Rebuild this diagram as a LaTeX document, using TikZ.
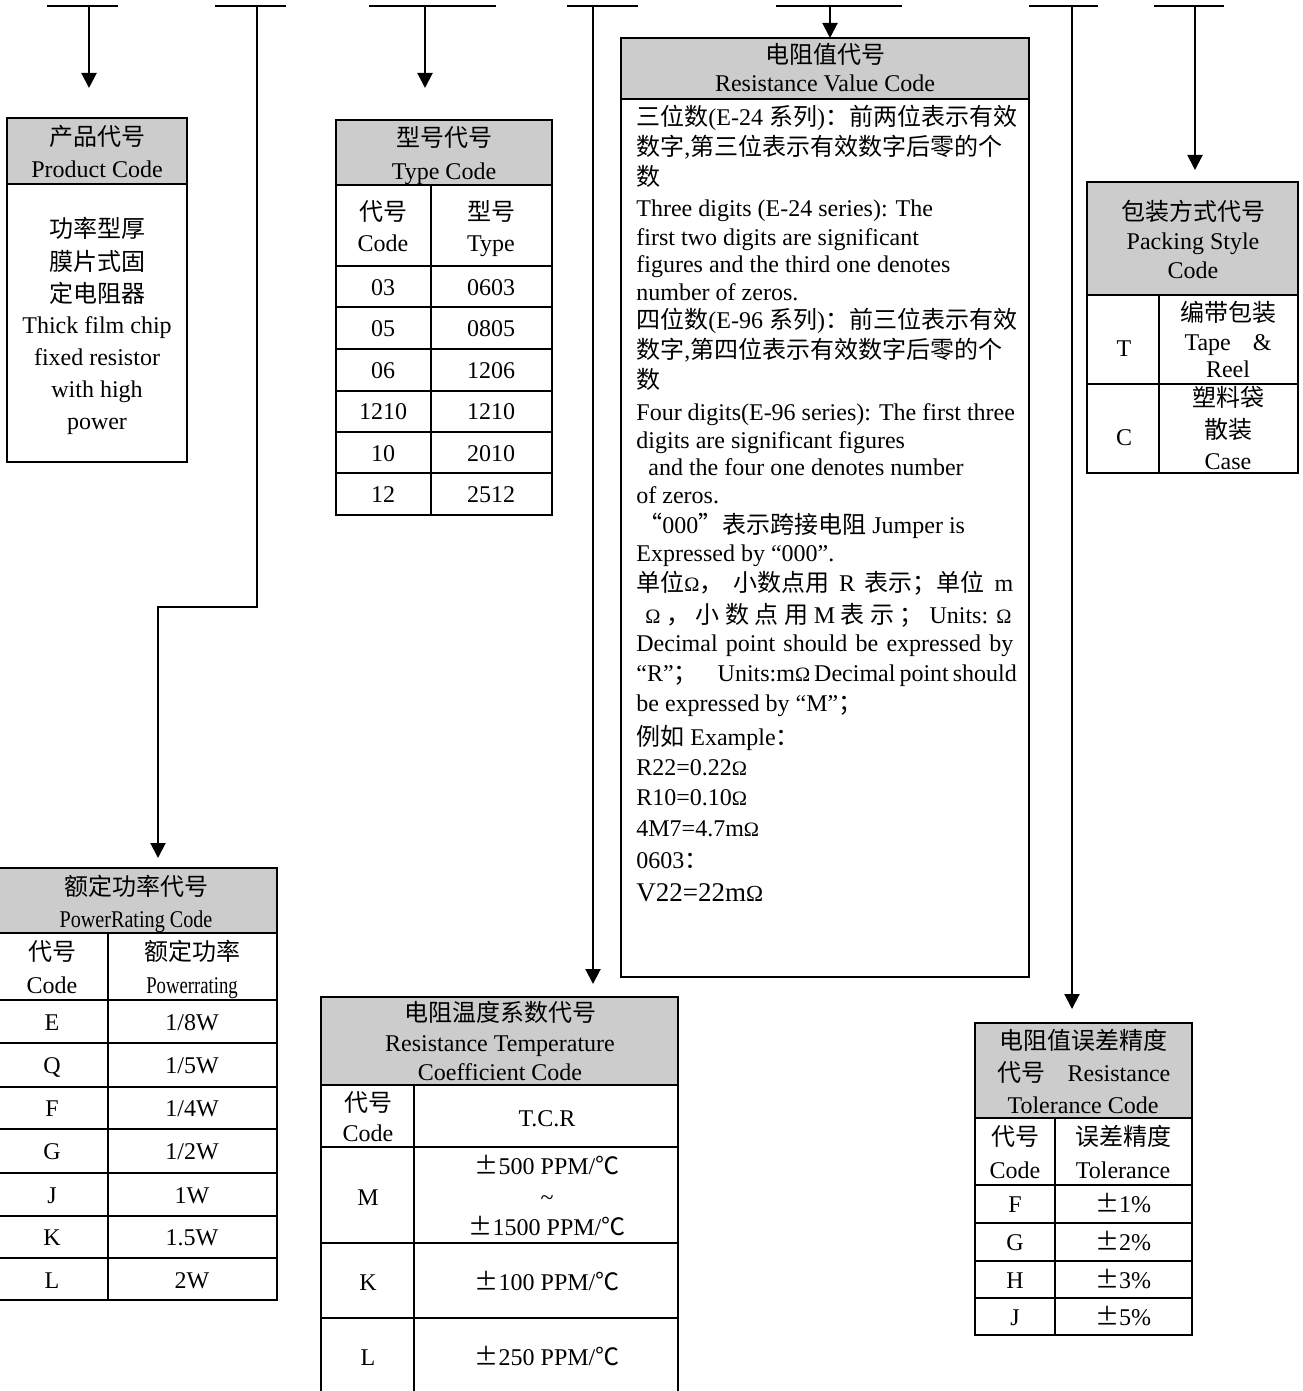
\documentclass[tikz,border=0pt]{standalone}
\usepackage{fontspec}
\usepackage{graphicx}
\setmainfont{Liberation Serif}
\newfontfamily\cjk{Noto Sans CJK SC}
\newcommand\zh[1]{{\cjk #1}}
\newcommand\ohm{\scalebox{0.85}{Ω}}
\usetikzlibrary{arrows.meta}
\definecolor{hdrgray}{gray}{0.8}
\tikzset{
  lbl/.style={inner sep=0pt, text height=10pt, text depth=1.6pt, font=\fontsize{12}{16}\selectfont},
  lft/.style={lbl, anchor=west},
  tbl/.style={line width=1pt},
  hdr/.style={tbl, fill=hdrgray},
  wire/.style={line width=1pt},
  pointer/.style={wire, -{Triangle[width=7.5pt,length=7.5pt]}}
}

\begin{document}
\begin{tikzpicture}[x=0.5pt,y=-0.5pt]
\useasboundingbox (0,0) rectangle (1302,1391);

% top bars and leads
\coordinate (b1l) at (47,6);    \coordinate (b1r) at (118,6);
\coordinate (b2l) at (215,6);   \coordinate (b2r) at (286,6);
\coordinate (b3l) at (369,6);   \coordinate (b3r) at (496,6);
\coordinate (b4l) at (567,6);   \coordinate (b4r) at (638,6);
\coordinate (b5l) at (776,6);   \coordinate (b5r) at (902,6);
\coordinate (b6l) at (1029,6);  \coordinate (b6r) at (1098,6);
\coordinate (b7l) at (1154,6);  \coordinate (b7r) at (1224,6);
\coordinate (s1) at (89,6);     \coordinate (e1) at (89,88);
\coordinate (s2) at (257,6);    \coordinate (k2) at (158,607);   \coordinate (e2) at (158,858);
\coordinate (s3) at (425,6);    \coordinate (e3) at (425,88);
\coordinate (s4) at (593,6);    \coordinate (e4) at (593,984);
\coordinate (s5) at (830,6);    \coordinate (e5) at (830,38);
\coordinate (s6) at (1072,6);   \coordinate (e6) at (1072,1009);
\coordinate (s7) at (1195,6);   \coordinate (e7) at (1195,170);
\draw[wire] (b1l) -- (b1r) (b2l) -- (b2r) (b3l) -- (b3r) (b4l) -- (b4r)
            (b5l) -- (b5r) (b6l) -- (b6r) (b7l) -- (b7r);
\draw[pointer] (s1) -- (e1);
\draw[pointer] (s2) |- (k2) -- (e2);
\draw[pointer] (s3) -- (e3);
\draw[pointer] (s4) -- (e4);
\draw[pointer] (s5) -- (e5);
\draw[pointer] (s6) -- (e6);
\draw[pointer] (s7) -- (e7);

% product code
\draw[hdr] (7,118) rectangle (187,184);
\draw[tbl] (7,184) rectangle (187,462);
\node[lbl] (pc1) at (97,137) {\zh{产品代号}};
\node[lbl] (pc2) at (97,169) {Product Code};
\node[lbl] (pc3) at (97,229) {\zh{功率型厚}};
\node[lbl] (pc4) at (97,262) {\zh{膜片式固}};
\node[lbl] (pc5) at (97,294) {\zh{定电阻器}};
\node[lbl] (pc6) at (97,325) {Thick film chip};
\node[lbl] (pc7) at (97,357) {fixed resistor};
\node[lbl] (pc8) at (97,389) {with high};
\node[lbl] (pc9) at (97,421) {power};

% type code
\draw[hdr] (336,120) rectangle (552,185);
\draw[tbl] (336,185) rectangle (552,515);
\draw[tbl] (431,185) -- (431,515)
           (336,266) -- (552,266) (336,307) -- (552,307) (336,349) -- (552,349)
           (336,391) -- (552,391) (336,432) -- (552,432) (336,473) -- (552,473);
\node[lbl] (ty1) at (444,138) {\zh{型号代号}};
\node[lbl] (ty2) at (444,171) {Type Code};
\node[lbl] (ty3) at (383,212) {\zh{代号}};
\node[lbl] (ty4) at (383,243) {Code};
\node[lbl] (ty5) at (491,212) {\zh{型号}};
\node[lbl] (ty6) at (491,243) {Type};
\node[lbl] (ty7) at (383,287) {03};    \node[lbl] (ty8) at (491,287) {0603};
\node[lbl] (ty9) at (383,328) {05};    \node[lbl] (ty10) at (491,328) {0805};
\node[lbl] (ty11) at (383,370) {06};   \node[lbl] (ty12) at (491,370) {1206};
\node[lbl] (ty13) at (383,411) {1210}; \node[lbl] (ty14) at (491,411) {1210};
\node[lbl] (ty15) at (383,453) {10};   \node[lbl] (ty16) at (491,453) {2010};
\node[lbl] (ty17) at (383,494) {12};   \node[lbl] (ty18) at (491,494) {2512};

% resistance value code
\draw[hdr] (621,38) rectangle (1029,99);
\draw[tbl] (621,99) rectangle (1029,977);
\node[lbl] (rv0) at (825,55) {\zh{电阻值代号}};
\node[lbl] (rv00) at (825,83) {Resistance Value Code};
\node[lft] (rv1) at (636,117) {\zh{三位数}(E-24 \zh{系列})\zh{：前两位表示有效}};
\node[lft] (rv2) at (636,147) {\zh{数字},\zh{第三位表示有效数字后零的个}};
\node[lft] (rv3) at (636,177) {\zh{数}};
\node[lft] (rv4) at (636,208) {Three digits (E-24 series): The};
\node[lft] (rv5) at (636,237) {first two digits are significant};
\node[lft] (rv6) at (636,264) {figures and the third one denotes};
\node[lft] (rv7) at (636,292) {number of zeros.};
\node[lft] (rv8) at (636,320) {\zh{四位数}(E-96 \zh{系列})\zh{：前三位表示有效}};
\node[lft] (rv9) at (636,350) {\zh{数字},\zh{第四位表示有效数字后零的个}};
\node[lft] (rv10) at (636,380) {\zh{数}};
\node[lft] (rv11) at (636,412) {Four digits(E-96 series): The first three};
\node[lft] (rv12) at (636,440) {digits are significant figures};
\node[lft] (rv13) at (648,467) {and the four one denotes number};
\node[lft] (rv14) at (636,495) {of zeros.};
\node[lft] (rv15) at (638,525) {\zh{“}000\zh{”表示跨接电阻} Jumper is};
\node[lft] (rv16) at (636,553) {Expressed by “000”.};
\node[lft] (rv17) at (636,583) {\makebox[188.5pt][s]{\zh{单位}\ohm\zh{，}\hfill\zh{小数点用}\hfill R\hfill\zh{表示；单位}\hfill m}};
\node[lft] (rv18) at (645,615) {\makebox[183pt][s]{\ohm\hfill\zh{，}\hfill\zh{小}\hfill\zh{数}\hfill\zh{点}\hfill\zh{用}\hfill M\hfill\zh{表}\hfill\zh{示}\hfill\zh{；}\hfill Units: \ohm}};
\node[lft] (rv19) at (636,643) {\makebox[188.5pt][s]{Decimal point should be expressed by}};
\node[lft] (rv20) at (636,673) {\makebox[188.5pt][s]{“R”\zh{；}\hspace{8pt} Units:m\ohm{} Decimal point should}};
\node[lft] (rv21) at (636,703) {be expressed by “M”\zh{；}};
\node[lft] (rv22) at (636,737) {\zh{例如} Example\zh{：}};
\node[lft] (rv23) at (636,767) {R22=0.22\ohm};
\node[lft] (rv24) at (636,797) {R10=0.10\ohm};
\node[lft] (rv25) at (636,828) {4M7=4.7m\ohm};
\node[lft] (rv26) at (636,860) {0603\zh{：}};
\node[lft, font=\fontsize{13.5}{16}\selectfont] (rv27) at (636,893) {V22=22m\ohm};

% packing style code
\draw[hdr] (1087,182) rectangle (1298,295);
\draw[tbl] (1087,295) rectangle (1298,473);
\draw[tbl] (1159,295) -- (1159,473) (1087,384) -- (1298,384);
\node[lbl] (ps1) at (1193,212) {\zh{包装方式代号}};
\node[lbl] (ps2) at (1193,241) {Packing Style};
\node[lbl] (ps3) at (1193,270) {Code};
\node[lbl] (ps4) at (1124,348) {T};
\node[lbl] (ps5) at (1228,313) {\zh{编带包装}};
\node[lbl] (ps6) at (1228,342) {\makebox[43.5pt][s]{Tape \&}};
\node[lbl] (ps7) at (1228,369) {Reel};
\node[lbl] (ps8) at (1124,437) {C};
\node[lbl] (ps9) at (1228,398) {\zh{塑料袋}};
\node[lbl] (ps10) at (1228,430) {\zh{散装}};
\node[lbl] (ps11) at (1228,461) {Case};

% power rating code
\draw[hdr] (-3,868) rectangle (277,933);
\draw[tbl] (-3,933) rectangle (277,1300);
\draw[tbl] (108,933) -- (108,1300)
           (-3,1000) -- (277,1000) (-3,1043) -- (277,1043) (-3,1087) -- (277,1087)
           (-3,1129) -- (277,1129) (-3,1173) -- (277,1173) (-3,1216) -- (277,1216)
           (-3,1258) -- (277,1258);
\node[lbl] (pr1) at (136,887) {\zh{额定功率代号}};
\node[lbl] (pr2) at (136,919) {\scalebox{0.84}[1]{PowerRating Code}};
\node[lbl] (pr3) at (52,952) {\zh{代号}};
\node[lbl] (pr4) at (52,985) {Code};
\node[lbl] (pr5) at (192,952) {\zh{额定功率}};
\node[lbl] (pr6) at (192,985) {\scalebox{0.78}[1]{Powerrating}};
\node[lbl] (pr7) at (52,1022) {E};  \node[lbl] (pr8) at (192,1022) {1/8W};
\node[lbl] (pr9) at (52,1065) {Q};  \node[lbl] (pr10) at (192,1065) {1/5W};
\node[lbl] (pr11) at (52,1108) {F}; \node[lbl] (pr12) at (192,1108) {1/4W};
\node[lbl] (pr13) at (52,1151) {G}; \node[lbl] (pr14) at (192,1151) {1/2W};
\node[lbl] (pr15) at (52,1195) {J}; \node[lbl] (pr16) at (192,1195) {1W};
\node[lbl] (pr17) at (52,1237) {K}; \node[lbl] (pr18) at (192,1237) {1.5W};
\node[lbl] (pr19) at (52,1280) {L}; \node[lbl] (pr20) at (192,1280) {2W};

% temperature coefficient code
\draw[hdr] (321,997) rectangle (678,1085);
\draw[tbl] (321,1085) rectangle (678,1398);
\draw[tbl] (414,1085) -- (414,1398)
           (321,1147) -- (678,1147) (321,1243) -- (678,1243) (321,1318) -- (678,1318);
\node[lbl] (tc1) at (500,1013) {\zh{电阻温度系数代号}};
\node[lbl] (tc2) at (500,1043) {Resistance Temperature};
\node[lbl] (tc3) at (500,1072) {Coefficient Code};
\node[lbl] (tc4) at (368,1103) {\zh{代号}};
\node[lbl] (tc5) at (368,1133) {Code};
\node[lbl] (tc6) at (547,1118) {T.C.R};
\node[lbl] (tc7) at (368,1197) {M};
\node[lbl] (tc8) at (547,1166) {\zh{±}500 PPM/\zh{℃}};
\node[lbl] (tc9) at (547,1197) {\textasciitilde};
\node[lbl] (tc10) at (547,1227) {\zh{±}1500 PPM/\zh{℃}};
\node[lbl] (tc11) at (368,1282) {K};
\node[lbl] (tc12) at (547,1282) {\zh{±}100 PPM/\zh{℃}};
\node[lbl] (tc13) at (368,1357) {L};
\node[lbl] (tc14) at (547,1357) {\zh{±}250 PPM/\zh{℃}};

% resistance tolerance code
\draw[hdr] (975,1023) rectangle (1192,1118);
\draw[tbl] (975,1118) rectangle (1192,1335);
\draw[tbl] (1055,1118) -- (1055,1335)
           (975,1185) -- (1192,1185) (975,1223) -- (1192,1223)
           (975,1261) -- (1192,1261) (975,1298) -- (1192,1298);
\node[lbl] (rt1) at (1083,1041) {\zh{电阻值误差精度}};
\node[lbl] (rt2) at (1084,1073) {\zh{代号}\hspace{11pt}Resistance};
\node[lbl] (rt3) at (1083,1105) {Tolerance Code};
\node[lbl] (rt4) at (1015,1137) {\zh{代号}};
\node[lbl] (rt5) at (1015,1170) {Code};
\node[lbl] (rt6) at (1123,1137) {\zh{误差精度}};
\node[lbl] (rt7) at (1123,1170) {Tolerance};
\node[lbl] (rt8) at (1015,1204) {F};  \node[lbl] (rt9) at (1123,1204) {\zh{±}1\%};
\node[lbl] (rt10) at (1015,1242) {G}; \node[lbl] (rt11) at (1123,1242) {\zh{±}2\%};
\node[lbl] (rt12) at (1015,1280) {H}; \node[lbl] (rt13) at (1123,1280) {\zh{±}3\%};
\node[lbl] (rt14) at (1015,1317) {J}; \node[lbl] (rt15) at (1123,1317) {\zh{±}5\%};
\end{tikzpicture}
\end{document}
